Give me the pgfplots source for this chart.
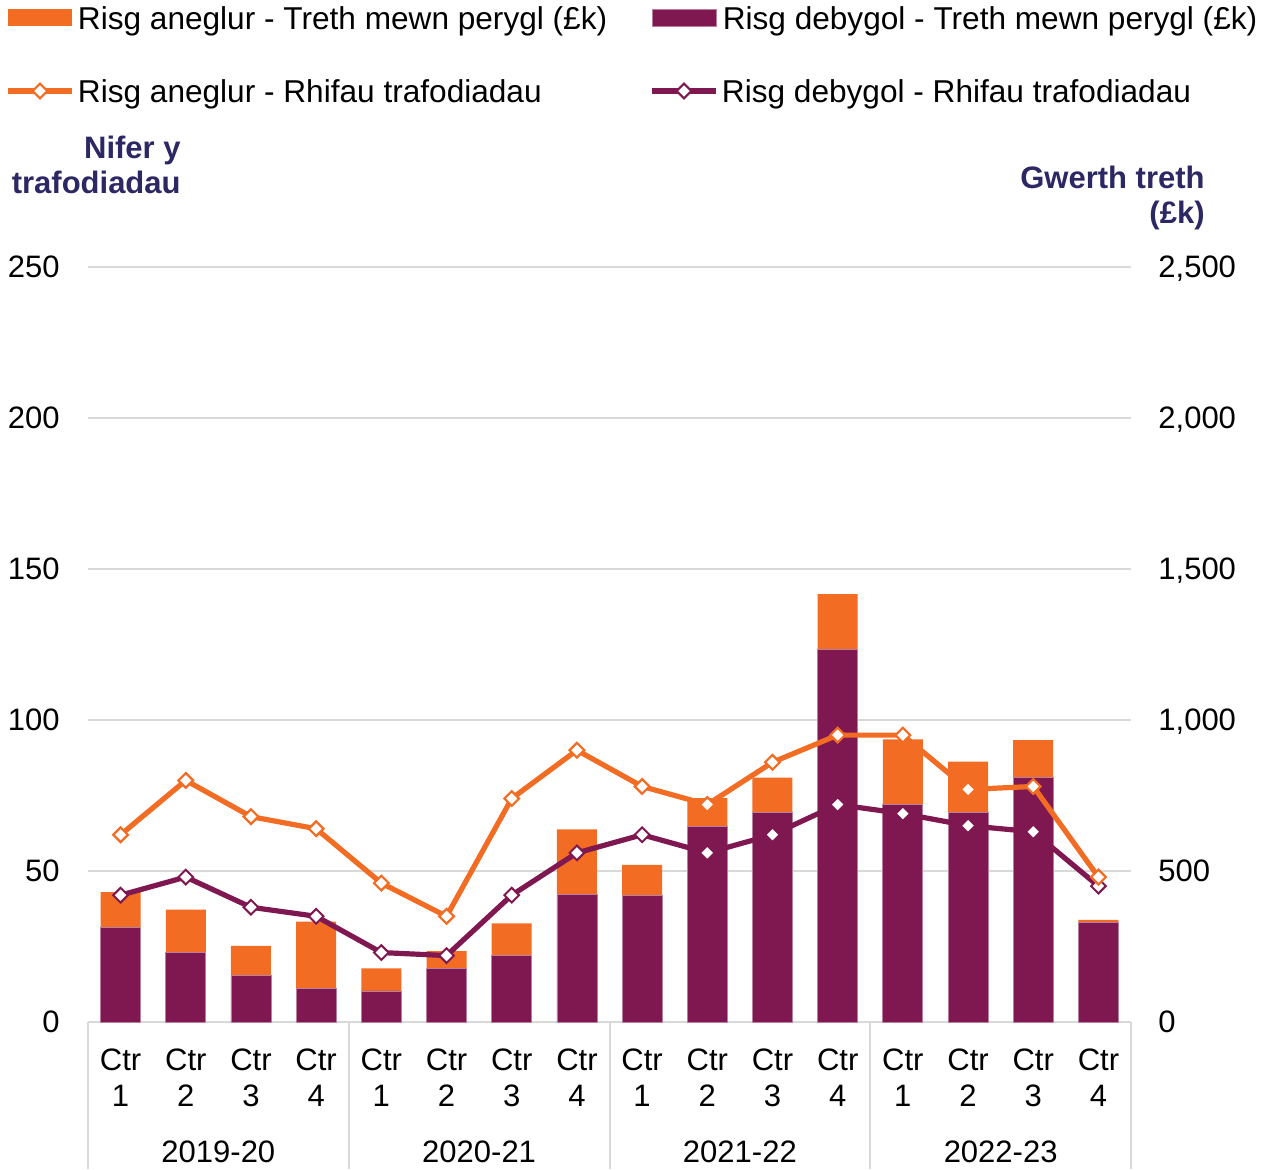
\documentclass[border=0pt]{standalone}
\usepackage{pgfplots}
\pgfplotsset{compat=1.18}
\usepackage{fontspec}
\setmainfont{Liberation Sans}
\definecolor{orng}{RGB}{242,108,35}
\definecolor{purp}{RGB}{127,23,80}
\definecolor{gridg}{RGB}{217,217,217}
\definecolor{titlec}{RGB}{44,40,100}
\newcommand{\cf}{\fontsize{15.5}{18.3}\selectfont}
\newcommand{\lf}{\fontsize{15.8}{18.3}\selectfont}
\begin{document}
\begin{tikzpicture}
\useasboundingbox (-44pt,-73.5pt) rectangle (589.5pt,511pt);
\pgfplotsset{
  base/.style={
    at={(0pt,0pt)}, anchor=south west, scale only axis,
    width=521.5pt, height=377.5pt,
    xmin=-0.5, xmax=15.5, ymin=0,
    major tick length=0pt,
    tick style={draw=none},
    ticklabel style={font=\cf},
    /pgf/number format/assume math mode=true,
    /pgf/number format/1000 sep={,},
    clip=false,
    legend style={draw=none, fill=none, inner sep=0pt, outer sep=0pt, font=\lf,
      nodes={inner sep=0pt, text depth=0pt},
      column sep=0pt, row sep=0pt,
      /tikz/every odd column/.append style={column sep=3pt}},
    legend cell align=left,
    legend columns=2,
    reverse legend,
  },
  barleg/.style={legend image code/.code={\fill[##1] (0pt,-4.25pt) rectangle (32pt,4.25pt);}},
  lineleg/.style={legend image code/.code={\draw[overlay,mark repeat=2,mark phase=2,##1] plot coordinates {(0pt,0pt) (16pt,0pt) (32pt,0pt)}; \path[draw=none,fill=none] (0pt,-4pt) rectangle (32pt,4pt);}},
}
% ---------- bars: tax at risk (right axis) ----------
\begin{axis}[base, ymax=2500,
  axis x line*=bottom, axis y line*=right,
  x axis line style={draw=gridg, line width=1pt},
  y axis line style={draw=none},
  ymajorgrids, grid style={draw=gridg, line width=1pt},
  ytick={0,500,...,2500},
  yticklabel style={inner sep=0pt, xshift=13.5pt, text depth=0pt},
  xtick={0,...,15},
  xticklabels={{Ctr\\1},{Ctr\\2},{Ctr\\3},{Ctr\\4},{Ctr\\1},{Ctr\\2},{Ctr\\3},{Ctr\\4},{Ctr\\1},{Ctr\\2},{Ctr\\3},{Ctr\\4},{Ctr\\1},{Ctr\\2},{Ctr\\3},{Ctr\\4}},
  xticklabel style={align=center, inner sep=0pt, yshift=-13pt},
  ybar stacked, bar width=20pt,
  legend style={at={(axis description cs:-0.0767,1.3298)}, anchor=west},
]
\addplot[fill=purp, draw=purp!55, line width=0.4pt, barleg] coordinates {
(0,313) (1,231) (2,154) (3,112) (4,103) (5,178) (6,221) (7,422)
(8,420) (9,648) (10,693) (11,1234) (12,721) (13,693) (14,809) (15,331)};
\addlegendentry{Risg debygol - Treth mewn perygl (£k)}
\addplot[fill=orng, draw=none, barleg] coordinates {
(0,117) (1,141) (2,98) (3,220) (4,75) (5,57) (6,106) (7,216)
(8,100) (9,93) (10,116) (11,183) (12,215) (13,169) (14,124) (15,7)};
\addlegendentry{\makebox[287pt][l]{Risg aneglur - Treth mewn perygl (£k)}}
\foreach \xx in {-0.5,3.5,7.5,11.5,15.5}{
  \edef\temp{\noexpand\draw[gridg, line width=1pt] (axis cs:\xx,0) -- ++(0pt,-73.5pt);}
  \temp
}
\node[font=\cf, inner sep=0pt, yshift=-64.85pt] at (axis cs:1.5,0) {2019-20};
\node[font=\cf, inner sep=0pt, yshift=-64.85pt] at (axis cs:5.5,0) {2020-21};
\node[font=\cf, inner sep=0pt, yshift=-64.85pt] at (axis cs:9.5,0) {2021-22};
\node[font=\cf, inner sep=0pt, yshift=-64.85pt] at (axis cs:13.5,0) {2022-23};
\end{axis}
% ---------- lines: number of transactions (left axis) ----------
\begin{axis}[base, ymax=250,
  axis x line=none, xtick=\empty, axis y line*=left,
  y axis line style={draw=none},
  ytick={0,50,...,250},
  yticklabel style={inner sep=0pt, xshift=-14pt},
  legend style={at={(axis description cs:-0.0767,1.2331)}, anchor=west},
]
\addplot[purp, line width=2.6pt, mark=square*, mark size=2.6pt,
  mark options={solid, fill=white, draw=purp, line width=1pt, rotate=45}, lineleg] coordinates {
(0,42) (1,48) (2,38) (3,35) (4,23) (5,22) (6,42) (7,56)
(8,62) (9,56) (10,62) (11,72) (12,69) (13,65) (14,63) (15,45)};
\addlegendentry{Risg debygol - Rhifau trafodiadau}
\addplot[orng, line width=2.6pt, mark=square*, mark size=2.6pt,
  mark options={solid, fill=white, draw=orng, line width=1.1pt, rotate=45}, lineleg] coordinates {
(0,62) (1,80) (2,68) (3,64) (4,46) (5,35) (6,74) (7,90)
(8,78) (9,72) (10,86) (11,95) (12,95) (13,77) (14,78) (15,48)};
\addlegendentry{\makebox[287pt][l]{Risg aneglur - Rhifau trafodiadau}}
\node[anchor=north east, align=right, inner sep=0pt, text=titlec,
  font=\fontsize{15.5}{17.5}\selectfont\bfseries] at (axis description cs:0.08917,1.17351) {Nifer y\\trafodiadau};
\node[anchor=north east, align=right, inner sep=0pt, text=titlec,
  font=\fontsize{15.5}{17.5}\selectfont\bfseries] at (axis description cs:1.07095,1.13377) {Gwerth treth\\(£k)};
\end{axis}
\end{tikzpicture}
\end{document}
